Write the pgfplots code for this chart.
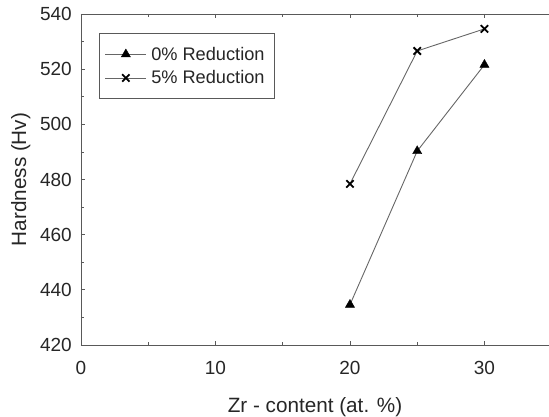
\documentclass[border=0pt]{standalone}
\usepackage{pgfplots}
\pgfplotsset{compat=1.18}
\usepackage{fontspec}
\setmainfont{Liberation Sans}
\begin{document}
\begin{tikzpicture}
\begin{axis}[
  at={(0,0)}, anchor=south west,
  scale only axis, width=468pt, height=331pt,
  xmin=0, xmax=34.8, ymin=420, ymax=540,
  axis x line*=box, axis y line*=left,
  axis line style={draw=black!65, line width=0.9pt},
  xtick={0,10,20,30}, ytick={420,440,...,540},
  minor xtick={5,15,25}, minor ytick={430,450,...,530},
  tick align=inside,
  major tick length=4pt, minor tick length=3pt,
  tick style={draw=black!65, line width=0.8pt},
  /pgf/number format/assume math mode=true,
  ticklabel style={font=\fontsize{19}{22}\selectfont, text=black!85, inner sep=0pt},
  xticklabel style={anchor=north, yshift=-16.5pt},
  yticklabel style={anchor=east, xshift=-9pt},
  xlabel={Zr - content (at. \%)},
  ylabel={Hardness (Hv)},
  label style={font=\fontsize{20.7}{24}\selectfont, text=black!85},
  xlabel style={at={([yshift=-49pt]axis description cs:0.5,0)}, anchor=north},
  ylabel style={at={([xshift=-47pt]axis description cs:0,0.5)}, anchor=south, rotate=0},
  legend style={at={(0.0385,0.9426)}, anchor=north west,
    draw=black!65, line width=0.9pt, font=\fontsize{18.2}{21}\selectfont,
    text=black!85, inner xsep=5.5pt, inner ysep=9pt, row sep=0pt,
    column sep=0pt, nodes={inner sep=4.5pt},
    cells={anchor=west}},
  legend image code/.code={
    \draw[#1, line width=0.8pt] (0pt,0pt) -- (41pt,0pt);
    \draw[#1, only marks] plot coordinates {(20.5pt,0pt)};
  },
]
\addplot[black!60, line width=0.9pt, mark=triangle*, mark size=5.3pt,
  mark options={solid, fill=black, draw=black, line width=0.4pt}] coordinates {
  (20,434.6) (25,490.3) (30,521.6)
};
\addlegendentry{0\% Reduction}
\addplot[black!60, line width=0.9pt, mark=x, mark size=5.2pt,
  mark options={solid, draw=black, line width=1.8pt}] coordinates {
  (20,478.4) (25,526.6) (30,534.6)
};
\addlegendentry{5\% Reduction}
\end{axis}
\pgfresetboundingbox
\path (-81pt,-72pt) rectangle (468pt,345pt);
\end{tikzpicture}
\end{document}
